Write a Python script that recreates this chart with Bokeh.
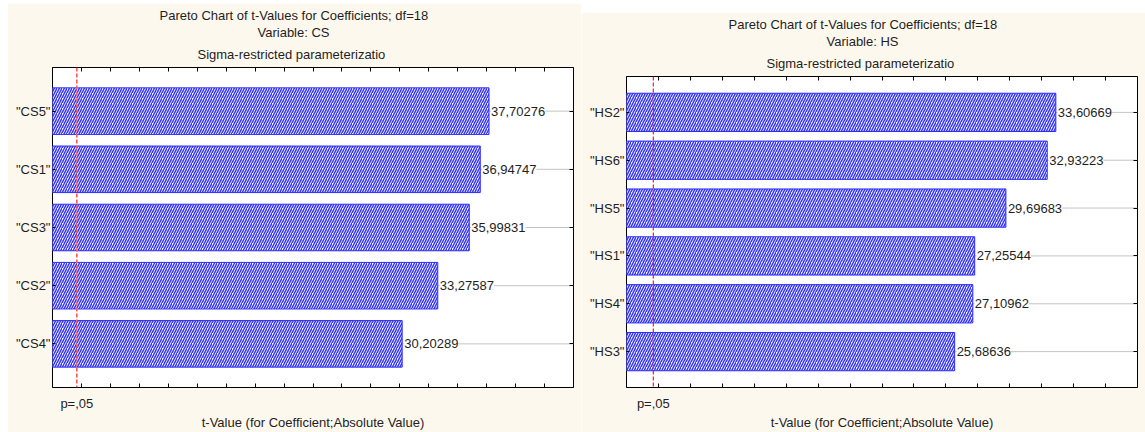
from bokeh.plotting import figure
from bokeh.layouts import row
from bokeh.core.properties import value
from bokeh.models import (Range1d, FixedTicker, LinearAxis, Span, Title, LabelSet,
                          ColumnDataSource, CustomJSTickFormatter)
from bokeh.embed import file_html
from bokeh.resources import INLINE

# Effect estimates, sorted by absolute t-value (largest on top)
cs_terms = ['"CS5"', '"CS1"', '"CS3"', '"CS2"', '"CS4"']
cs_t = [37.70276, 36.94747, 35.99831, 33.27587, 30.20289]
hs_terms = ['"HS2"', '"HS6"', '"HS5"', '"HS1"', '"HS4"', '"HS3"']
hs_t = [33.60669, 32.93223, 29.69683, 27.25544, 27.10962, 25.68636]

t_crit = 2.100922          # two-sided critical t, p = .05, df = 18
p_label = "p=,05"
title_top = "Pareto Chart of t-Values for Coefficients; df=18"
title_sub = "Sigma-restricted parameterizatio"
x_title = "t-Value (for Coefficient;Absolute Value)"

FONT = "Liberation Sans"
FS = "13px"
CREAM = "#fdf8ee"
INK = "#1e1e1e"


def pareto(terms, tvals, xmax, variable, width, height, top, bottom,
           heading_left, dash_color, dash_width):
    n = len(terms)
    pos = list(range(n, 0, -1))
    p = figure(width=width, height=height, x_range=Range1d(0, xmax),
               y_range=Range1d(0.25, n + 0.75), title=None,
               output_backend="svg", toolbar_location=None,
               min_border_left=45, min_border_right=8,
               min_border_top=top, min_border_bottom=bottom,
               background_fill_color="white", border_fill_color=CREAM,
               outline_line_color="black", outline_line_width=1)
    p.xgrid.visible = False
    p.ygrid.visible = False

    src = ColumnDataSource(dict(
        y=pos, t=tvals, xend=[xmax] * n,
        txt=[f"{v:.5f}".replace(".", ",") for v in tvals]))

    # leader lines from bar end to the right frame
    p.segment(x0="t", y0="y", x1="xend", y1="y", source=src,
              line_color="#c4c4c4", line_width=1)
    p.hbar(y="y", left=0, right="t", height=0.8, source=src,
           fill_color="white", line_color="#2b2bff", line_width=1,
           hatch_pattern="/", hatch_color="#3434ff", hatch_scale=5, hatch_weight=1.5)
    p.add_layout(LabelSet(x="t", y="y", text="txt", source=src, x_offset=2,
                          text_baseline="middle", text_font=value(FONT),
                          text_font_size=value(FS), text_color=INK,
                          background_fill_color="white"))
    p.add_layout(Span(location=t_crit, dimension="height", line_color=dash_color,
                      line_dash="4 2", line_width=dash_width))

    minors = [i * 2.5 for i in range(int(xmax / 2.5) + 1)]

    xa = p.xaxis[0]
    xa.ticker = FixedTicker(ticks=[t_crit], minor_ticks=minors)
    xa.formatter = CustomJSTickFormatter(code=f'return "{p_label}";')
    xa.major_tick_line_color = None
    xa.major_tick_in = 0
    xa.major_tick_out = 0
    xa.minor_tick_in = 4
    xa.minor_tick_out = 0
    xa.axis_line_color = None
    xa.major_label_standoff = 8
    xa.major_label_text_font = FONT
    xa.major_label_text_font_size = FS
    xa.major_label_text_color = INK
    xa.axis_label = x_title
    xa.axis_label_text_font = FONT
    xa.axis_label_text_font_size = FS
    xa.axis_label_text_font_style = "normal"
    xa.axis_label_text_color = INK
    xa.axis_label_standoff = 1

    top_axis = LinearAxis(ticker=FixedTicker(ticks=[], minor_ticks=minors),
                          major_tick_in=0, major_tick_out=0,
                          minor_tick_in=4, minor_tick_out=0,
                          major_label_standoff=0, axis_line_color=None)
    p.add_layout(top_axis, "above")

    ya = p.yaxis[0]
    ya.ticker = FixedTicker(ticks=pos)
    ya.major_label_overrides = {k: v for k, v in zip(pos, terms)}
    ya.major_tick_in = 3
    ya.major_tick_out = 0
    ya.minor_tick_line_color = None
    ya.axis_line_color = None
    ya.major_label_standoff = 2
    ya.major_label_text_font = FONT
    ya.major_label_text_font_size = FS
    ya.major_label_text_color = INK

    right_axis = LinearAxis(ticker=FixedTicker(ticks=[], minor_ticks=pos),
                            major_tick_in=0, major_tick_out=0,
                            minor_tick_in=4, minor_tick_out=0,
                            major_label_standoff=0, axis_line_color=None)
    p.add_layout(right_axis, "right")

    # three-line heading; added bottom line first so it sits nearest the frame
    lines = (title_sub, f"Variable: {variable}", title_top)
    for line, shift, gap in zip(lines, heading_left, (11, 0, 0)):
        p.add_layout(Title(text=line, align="left", offset=shift,
                           text_font=FONT, text_font_size=FS,
                           text_font_style="normal", text_color=INK,
                           standoff=gap), "above")
    return p


left = pareto(cs_terms, cs_t, 45, "CS", 574, 429, 64, 44,
              (145, 205, 107), "#ff5a5a", 1.6)
right = pareto(hs_terms, hs_t, 40, "HS", 564, 420, 63, 44,
               (140, 200, 102), "#ff1a1a", 1.2)
left.margin = (3, 0, 0, 7)
right.margin = (12, 0, 0, 0)

page = row(left, right, margin=0)
open("out.html", "w").write(file_html(page, INLINE))
